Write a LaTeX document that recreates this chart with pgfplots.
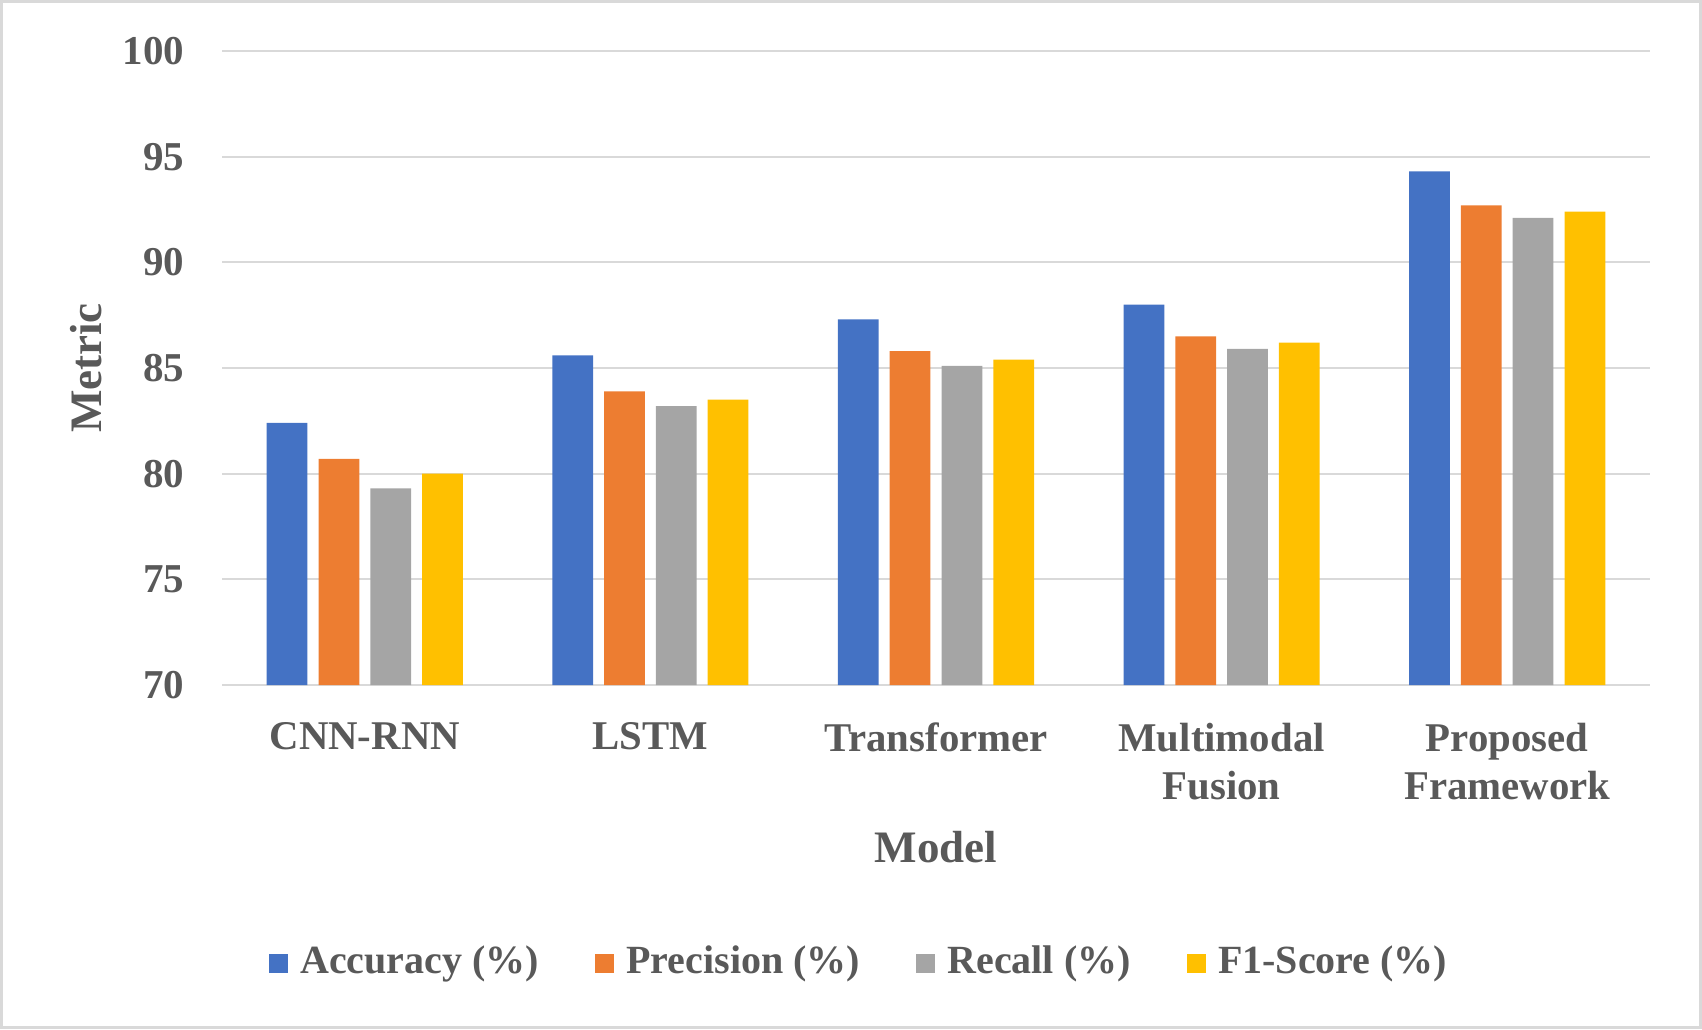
\documentclass[border=0pt]{standalone}
\usepackage{fontspec}
\setmainfont{Liberation Serif}
\usepackage{pgfplots}
\pgfplotsset{compat=1.18}
\definecolor{cA}{HTML}{4472C4}
\definecolor{cB}{HTML}{ED7D31}
\definecolor{cC}{HTML}{A5A5A5}
\definecolor{cD}{HTML}{FFC000}
\definecolor{txt}{HTML}{595959}
\definecolor{grd}{HTML}{D9D9D9}
\begin{document}
\begin{tikzpicture}
\useasboundingbox (0,0) rectangle (425.5pt,257.25pt);
\draw[grd, line width=0.75pt] (0.375pt,0.375pt) rectangle (425.125pt,256.875pt);
\begin{axis}[
  at={(55.5pt,86pt)}, anchor=south west,
  scale only axis, width=357pt, height=158.5pt,
  ybar=2.77pt, bar width=10.18pt,
  xmin=-0.5, xmax=4.5, ymin=70, ymax=100,
  enlargelimits=false,
  axis line style={draw=none},
  major tick length=0pt, tick style={draw=none},
  xtick={0,1,2,3,4},
  xticklabels={CNN-RNN, LSTM, Transformer, {Multimodal\\Fusion}, {Proposed\\Framework}},
  xticklabel style={align=center, font=\fontsize{10.2}{12}\selectfont\bfseries, text=txt, inner sep=0pt, anchor=north, yshift=-9.25pt},
  ytick={70,75,80,85,90,95,100},
  yticklabels={70,75,80,85,90,95,100},
  yticklabel style={font=\fontsize{10.25}{12}\selectfont\bfseries, text=txt, inner sep=0pt, anchor=east, xshift=-9.25pt},
  ymajorgrids, grid style={grd, line width=0.5pt},
  xlabel={Model},
  xlabel style={at={(axis description cs:0.5,0)}, anchor=north, yshift=-36.25pt, inner sep=0pt, font=\fontsize{11.25}{13.5}\selectfont\bfseries, text=txt},
  ylabel={Metric},
  ylabel style={at={(axis description cs:-0.0952,0.5)}, anchor=center, inner sep=0pt, font=\fontsize{11.25}{13.5}\selectfont\bfseries, text=txt},
  legend columns=4,
  legend style={draw=none, fill=none, at={(axis description cs:0.4454,-0.4385)}, anchor=center,
    font=\fontsize{10}{12}\selectfont\bfseries, text=txt,
    nodes={inner sep=0pt, text=txt},
    /tikz/every odd column/.append style={column sep=3.1pt},
    /tikz/every even column/.append style={column sep=14pt}},
]
\addplot[fill=cA, draw=none, legend image code/.code={\fill[cA] (0pt,-2.375pt) rectangle (4.75pt,2.375pt);}]
  coordinates {(0,82.4) (1,85.6) (2,87.3) (3,88.0) (4,94.3)};
\addplot[fill=cB, draw=none, legend image code/.code={\fill[cB] (0pt,-2.375pt) rectangle (4.75pt,2.375pt);}]
  coordinates {(0,80.7) (1,83.9) (2,85.8) (3,86.5) (4,92.7)};
\addplot[fill=cC, draw=none, legend image code/.code={\fill[cC] (0pt,-2.375pt) rectangle (4.75pt,2.375pt);}]
  coordinates {(0,79.3) (1,83.2) (2,85.1) (3,85.9) (4,92.1)};
\addplot[fill=cD, draw=none, legend image code/.code={\fill[cD] (0pt,-2.375pt) rectangle (4.75pt,2.375pt);}]
  coordinates {(0,80.0) (1,83.5) (2,85.4) (3,86.2) (4,92.4)};
\legend{Accuracy (\%), Precision (\%), Recall (\%), F1-Score (\%)}
\end{axis}
\end{tikzpicture}
\end{document}
